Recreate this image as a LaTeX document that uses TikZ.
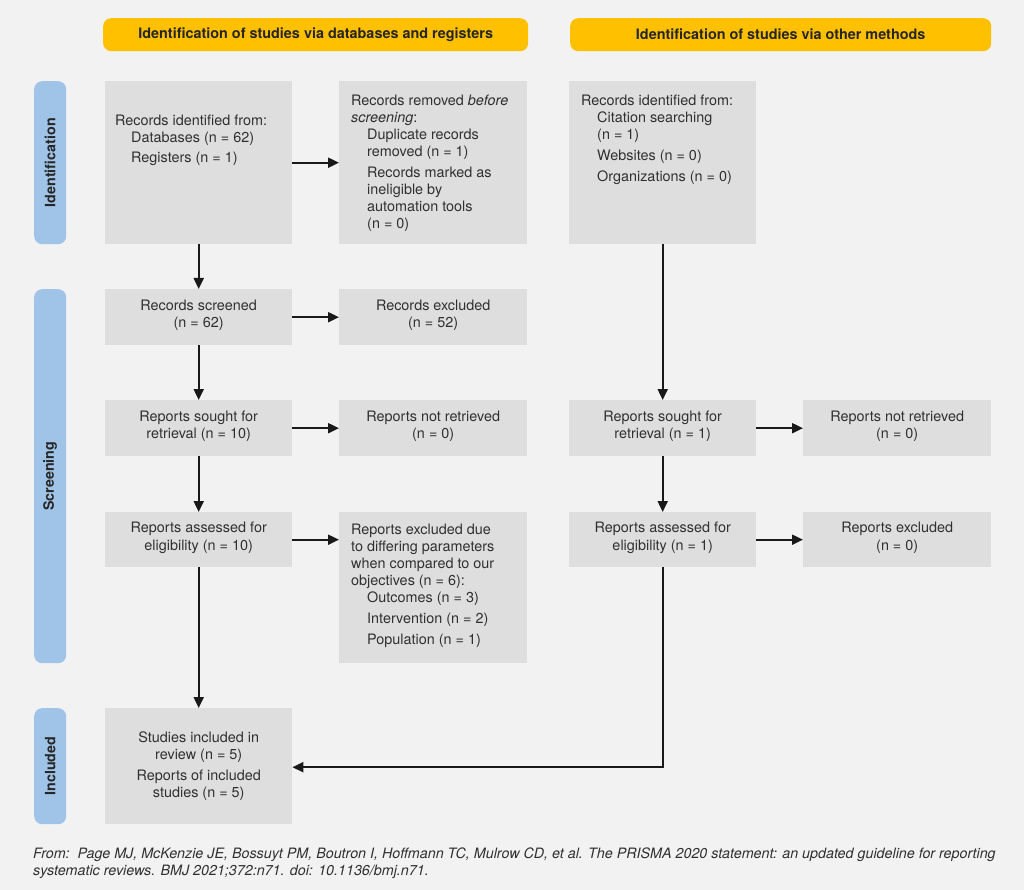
\documentclass[tikz,border=0pt]{standalone}
\usepackage{fontspec}
\setmainfont{TeX Gyre Heros}
\usetikzlibrary{arrows.meta,positioning,calc}
\definecolor{bggray}{HTML}{F2F2F2}
\definecolor{boxgray}{HTML}{DEDEDF}
\definecolor{barblue}{HTML}{A0C4E8}
\definecolor{headyellow}{HTML}{FFC000}
\definecolor{txt}{HTML}{303030}
\tikzset{
  box/.style={fill=boxgray, inner sep=0pt, anchor=north west, text=txt},
  ctext/.style={align=center, text=txt, font=\fontsize{14.4}{17.2}\selectfont},
  ltext/.style={align=left, text=txt, anchor=north west, inner sep=0pt, font=\fontsize{14.4}{17}\selectfont},
  header/.style={fill=headyellow, rounded corners=8pt, anchor=north west, inner sep=0pt, font=\bfseries\fontsize{14.4}{16}\selectfont, text=black!85},
  sidebar/.style={fill=barblue, rounded corners=8pt, anchor=north west, inner sep=0pt},
  sidetext/.style={rotate=90, font=\bfseries\fontsize{14.3}{16}\selectfont, text=black!85},
  arr/.style={line width=2pt, black!90, -{Triangle[length=11pt,width=10pt]}},
}
\newcommand{\ind}{\hspace*{16pt}}
\begin{document}
\begin{tikzpicture}[x=1pt,y=-1pt]
\fill[bggray] (0,0) rectangle (1024,890);
\useasboundingbox (0,0) rectangle (1024,890);

% headers
\node[header, minimum width=425pt, minimum height=33pt] (h1) at (103,18) {Identification of studies via databases and registers};
\node[header, minimum width=421pt, minimum height=33pt] (h2) at (570,18) {Identification of studies via other methods};

% side bars
\node[sidebar, minimum width=32pt, minimum height=163pt] (s1) at (34,81) {};
\node[sidetext] at (s1.center) {Identification};
\node[sidebar, minimum width=32pt, minimum height=374pt] (s2) at (34,289) {};
\node[sidetext] at (s2.center) {Screening};
\node[sidebar, minimum width=32pt, minimum height=116pt] (s3) at (34,708) {};
\node[sidetext] at (s3.center) {Included};

% left column
\node[box, minimum width=187pt, minimum height=163pt] (a) at (105,81) {};
\node[ltext] (at) at (115,115) {Records identified from:\\[0pt]
\ind Databases (n = 62)\\[3pt]
\ind Registers (n = 1)};

\node[box, minimum width=188pt, minimum height=163pt] (b) at (339,81) {};
\node[ltext] (bt) at (351,95) {Records removed \textit{before}\\
\textit{screening}:\\
\ind Duplicate records\\
\ind removed (n = 1)\\[4pt]
\ind Records marked as\\
\ind ineligible by\\
\ind automation tools\\
\ind (n = 0)};

\node[box, minimum width=187pt, minimum height=56pt] (rs) at (105,289) {};
\node[ctext] at ($(rs.center)+(0,-2)$) {Records screened\\(n = 62)};
\node[box, minimum width=188pt, minimum height=56pt] (re) at (339,289) {};
\node[ctext] at ($(re.center)+(0,-2)$) {Records excluded\\(n = 52)};

\node[box, minimum width=187pt, minimum height=56pt] (ps) at (105,400) {};
\node[ctext] at ($(ps.center)+(0,-2)$) {Reports sought for\\retrieval (n = 10)};
\node[box, minimum width=188pt, minimum height=56pt] (pn) at (339,400) {};
\node[ctext] at ($(pn.center)+(0,-2)$) {Reports not retrieved\\(n = 0)};

\node[box, minimum width=187pt, minimum height=55pt] (pa) at (105,512) {};
\node[ctext] at ($(pa.center)+(0,-2)$) {Reports assessed for\\eligibility (n = 10)};
\node[box, minimum width=188pt, minimum height=151pt] (pe) at (339,512) {};
\node[ltext] (pet) at (351,524) {Reports excluded due\\
to differing parameters\\
when compared to our\\
objectives (n = 6):\\
\ind Outcomes (n = 3)\\[4pt]
\ind Intervention (n = 2)\\[4pt]
\ind Population (n = 1)};

\node[box, minimum width=187pt, minimum height=116pt] (inc) at (105,708) {};
\node[ctext] at (inc.center) {Studies included in\\review (n = 5)\\[3pt]Reports of included\\studies (n = 5)};

% right column
\node[box, minimum width=187pt, minimum height=163pt] (c) at (569,81) {};
\node[ltext] (ct) at (581,95) {Records identified from:\\
\ind Citation searching\\
\ind (n = 1)\\[4pt]
\ind Websites (n = 0)\\[4pt]
\ind Organizations (n = 0)};

\node[box, minimum width=187pt, minimum height=56pt] (ops) at (569,400) {};
\node[ctext] at ($(ops.center)+(0,-2)$) {Reports sought for\\retrieval (n = 1)};
\node[box, minimum width=188pt, minimum height=56pt] (opn) at (803,400) {};
\node[ctext] at ($(opn.center)+(0,-2)$) {Reports not retrieved\\(n = 0)};

\node[box, minimum width=187pt, minimum height=55pt] (opa) at (569,512) {};
\node[ctext] at ($(opa.center)+(0,-2)$) {Reports assessed for\\eligibility (n = 1)};
\node[box, minimum width=188pt, minimum height=55pt] (ope) at (803,512) {};
\node[ctext] at ($(ope.center)+(0,-2)$) {Reports excluded\\(n = 0)};

% arrows left
\draw[arr] (a.east) -- (b.west);
\draw[arr] (rs.east) -- (re.west);
\draw[arr] (ps.east) -- (pn.west);
\draw[arr] (pa.east) -- (pa.east -| pe.west);
\draw[arr] (a.south) -- (rs.north);
\draw[arr] (rs.south) -- (ps.north);
\draw[arr] (ps.south) -- (pa.north);
\draw[arr] (pa.south) -- (inc.north);

% arrows right
\draw[arr] (c.south -| ops.north) -- (ops.north);
\draw[arr] (ops.east) -- (opn.west);
\draw[arr] (opa.east) -- (ope.west);
\draw[arr] (ops.south) -- (opa.north);
\draw[arr] (opa.south) |- ($(inc.east)+(0,1)$);

% footer
\node[anchor=north west, inner sep=0pt, align=left, text=txt, font=\itshape\fontsize{14.3}{16.5}\selectfont] (foot) at (33,848) {From:\ \ Page MJ, McKenzie JE, Bossuyt PM, Boutron I, Hoffmann TC, Mulrow CD, et al. The PRISMA 2020 statement: an updated guideline for reporting\\
systematic reviews. BMJ 2021;372:n71. doi: 10.1136/bmj.n71.};
\end{tikzpicture}
\end{document}
